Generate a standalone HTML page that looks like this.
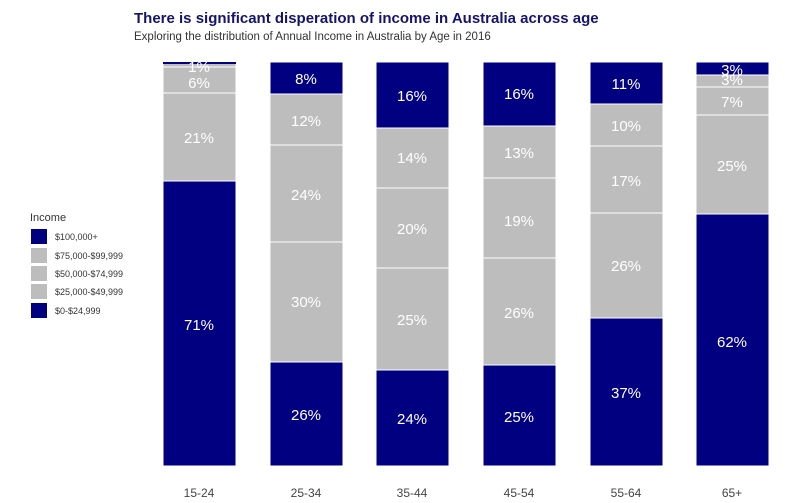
<!DOCTYPE html>
<html><head><style>body{margin:0;background:#fff}svg{display:block}</style></head><body>
<svg width="800" height="503" xmlns="http://www.w3.org/2000/svg" font-family="Liberation Sans, Arial, sans-serif">
<rect width="800" height="503" fill="#fff"/>
<text x="134" y="23" font-size="15" font-weight="bold" fill="#14146e">There is significant disperation of income in Australia across age</text>
<text x="134" y="40" font-size="11.5" fill="#333">Exploring the distribution of Annual Income in Australia by Age in 2016</text>
<g id="bars" stroke="#fff" stroke-width="1">
<!-- 15-24 -->
<rect x="163" y="62" width="73" height="404" fill="#bdbdbd"/>
<rect x="163" y="62" width="73" height="2" fill="#000080" stroke="none"/>
<line x1="163" x2="236" y1="67" y2="67"/><line x1="163" x2="236" y1="93" y2="93"/>
<rect x="163" y="181" width="73" height="285" fill="#000080"/>
<!-- 25-34 -->
<rect x="270" y="62" width="73" height="404" fill="#bdbdbd"/>
<rect x="270" y="62" width="73" height="32" fill="#000080"/>
<line x1="270" x2="343" y1="145" y2="145"/><line x1="270" x2="343" y1="242" y2="242"/>
<rect x="270" y="362" width="73" height="104" fill="#000080"/>
<!-- 35-44 -->
<rect x="376" y="62" width="73" height="404" fill="#bdbdbd"/>
<rect x="376" y="62" width="73" height="66" fill="#000080"/>
<line x1="376" x2="449" y1="188" y2="188"/><line x1="376" x2="449" y1="268" y2="268"/>
<rect x="376" y="370" width="73" height="96" fill="#000080"/>
<!-- 45-54 -->
<rect x="483" y="62" width="73" height="404" fill="#bdbdbd"/>
<rect x="483" y="62" width="73" height="64" fill="#000080"/>
<line x1="483" x2="556" y1="178" y2="178"/><line x1="483" x2="556" y1="258" y2="258"/>
<rect x="483" y="365" width="73" height="101" fill="#000080"/>
<!-- 55-64 -->
<rect x="590" y="62" width="73" height="404" fill="#bdbdbd"/>
<rect x="590" y="62" width="73" height="42" fill="#000080"/>
<line x1="590" x2="663" y1="146" y2="146"/><line x1="590" x2="663" y1="213" y2="213"/>
<rect x="590" y="318" width="73" height="148" fill="#000080"/>
<!-- 65+ -->
<rect x="696" y="62" width="73" height="404" fill="#bdbdbd"/>
<rect x="696" y="62" width="73" height="13" fill="#000080"/>
<line x1="696" x2="769" y1="87" y2="87"/><line x1="696" x2="769" y1="115" y2="115"/>
<rect x="696" y="214" width="73" height="252" fill="#000080"/>
</g>
<g font-size="15" fill="#fff" text-anchor="middle">
<text x="199" y="72">1%</text><text x="199" y="88">6%</text><text x="199" y="143">21%</text><text x="199" y="330">71%</text>
<text x="306" y="84">8%</text><text x="306" y="126">12%</text><text x="306" y="200">24%</text><text x="306" y="307">30%</text><text x="306" y="420">26%</text>
<text x="412" y="101">16%</text><text x="412" y="163">14%</text><text x="412" y="234">20%</text><text x="412" y="325">25%</text><text x="412" y="424">24%</text>
<text x="519" y="99">16%</text><text x="519" y="158">13%</text><text x="519" y="226">19%</text><text x="519" y="318">26%</text><text x="519" y="422">25%</text>
<text x="626" y="89">11%</text><text x="626" y="131">10%</text><text x="626" y="186">17%</text><text x="626" y="271">26%</text><text x="626" y="398">37%</text>
<text x="732" y="75">3%</text><text x="732" y="85">3%</text><text x="732" y="107">7%</text><text x="732" y="171">25%</text><text x="732" y="347">62%</text>
</g>
<g font-size="12" fill="#444" text-anchor="middle">
<text x="199" y="497">15-24</text><text x="306" y="497">25-34</text><text x="412" y="497">35-44</text><text x="519" y="497">45-54</text><text x="626" y="497">55-64</text><text x="732" y="497">65+</text>
</g>
<text x="30" y="221" font-size="11" fill="#333">Income</text>
<g font-size="9" fill="#333">
<rect x="31" y="229" width="16" height="15" fill="#000080"/><text x="55" y="240">$100,000+</text>
<rect x="31" y="248" width="16" height="15" fill="#bdbdbd"/><text x="55" y="259">$75,000-$99,999</text>
<rect x="31" y="266" width="16" height="15" fill="#bdbdbd"/><text x="55" y="277">$50,000-$74,999</text>
<rect x="31" y="284" width="16" height="15" fill="#bdbdbd"/><text x="55" y="295">$25,000-$49,999</text>
<rect x="31" y="303" width="16" height="15" fill="#000080"/><text x="55" y="314">$0-$24,999</text>
</g>
</svg>
</body></html>
